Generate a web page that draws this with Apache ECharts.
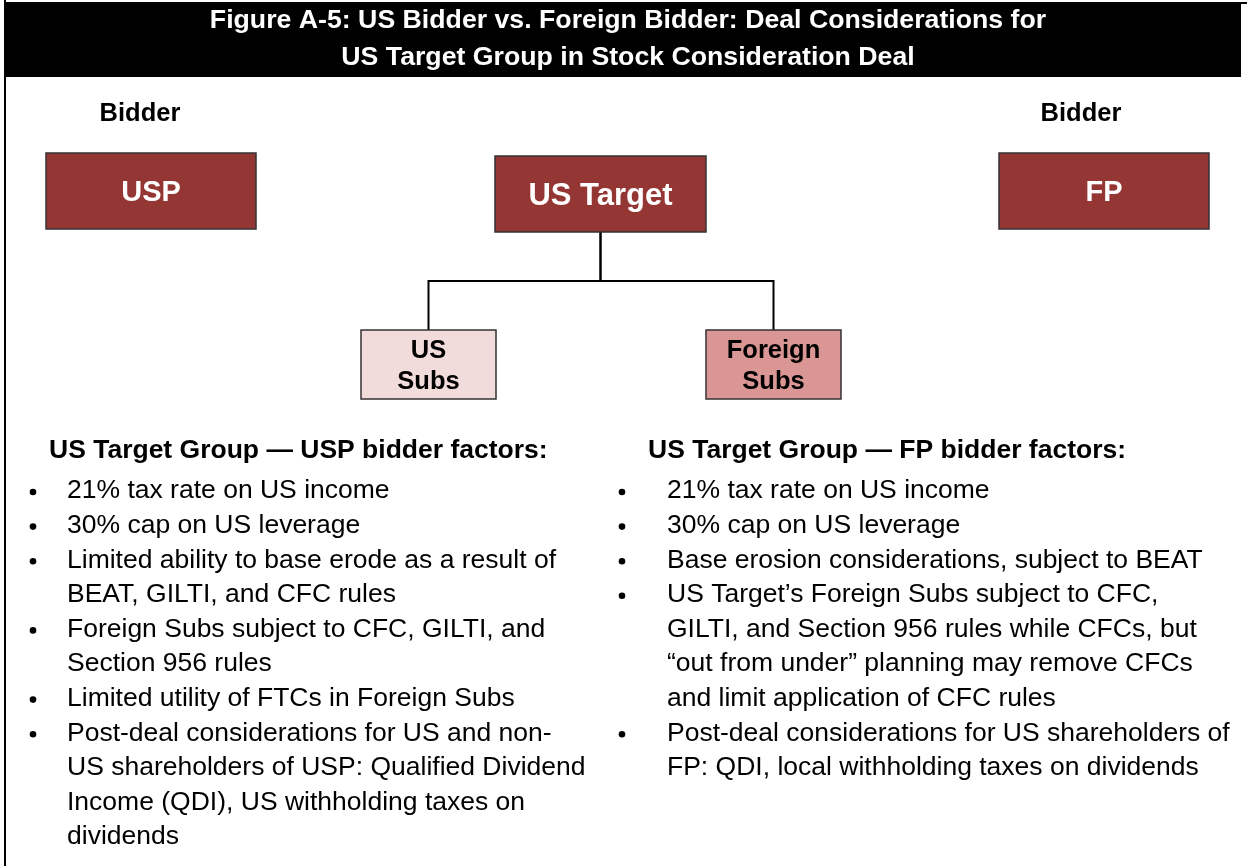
<!DOCTYPE html>
<html><head><meta charset="utf-8">
<script src="https://cdn.jsdelivr.net/npm/echarts@6/dist/echarts.min.js"></script>
<style>html,body{margin:0;padding:0;background:#fff}#c{width:1247px;height:866px}</style>
</head><body><div id="c"></div>
<script>
var titleLines = ["Figure A-5: US Bidder vs. Foreign Bidder: Deal Considerations for", "US Target Group in Stock Consideration Deal"];
var bidderLabels = ["Bidder", "Bidder"];
var nodeNames = ["USP", "US Target", "FP", "US\nSubs", "Foreign\nSubs"];
var nodeKinds = ["dark", "dark", "dark", "light", "medium"];
var edges = [["US Target", "US\nSubs"], ["US Target", "Foreign\nSubs"]];
var leftHeading = "US Target Group \u2014 USP bidder factors:";
var rightHeading = "US Target Group \u2014 FP bidder factors:";
var leftBullets = [
  ["21% tax rate on US income"],
  ["30% cap on US leverage"],
  ["Limited ability to base erode as a result of", "BEAT, GILTI, and CFC rules"],
  ["Foreign Subs subject to CFC, GILTI, and", "Section 956 rules"],
  ["Limited utility of FTCs in Foreign Subs"],
  ["Post-deal considerations for US and non-", "US shareholders of USP: Qualified Dividend", "Income (QDI), US withholding taxes on", "dividends"]
];
var rightBullets = [
  ["21% tax rate on US income"],
  ["30% cap on US leverage"],
  ["Base erosion considerations, subject to BEAT"],
  ["US Target\u2019s Foreign Subs subject to CFC,", "GILTI, and Section 956 rules while CFCs, but", "\u201cout from under\u201d planning may remove CFCs", "and limit application of CFC rules"],
  ["Post-deal considerations for US shareholders of", "FP: QDI, local withholding taxes on dividends"]
];

// layout (positions / styles kept separate from content)
var FONT = '"Liberation Sans", Arial, Helvetica, sans-serif';
var nodeBoxes = {
  "USP": [46, 153, 210, 76, 29],
  "US Target": [495, 156, 211, 76, 31],
  "FP": [999, 153, 210, 76, 29],
  "US\nSubs": [361, 330, 135, 69, 25.5],
  "Foreign\nSubs": [706, 330, 135, 69, 25.5]
};
var kindFill = {dark: '#943634', light: '#f2dcdb', medium: '#d99694'};
var kindText = {dark: '#ffffff', light: '#000000', medium: '#000000'};
var lineH = 34.6;

var g = [];
// frame
g.push({type:'line', shape:{x1:5,y1:0,x2:5,y2:866}, style:{stroke:'#000',lineWidth:2}});
g.push({type:'line', shape:{x1:5,y1:3,x2:1247,y2:3}, style:{stroke:'#000',lineWidth:2}});
g.push({type:'rect', shape:{x:5,y:3,width:1236,height:74}, style:{fill:'#000'}});
titleLines.forEach(function(t,i){
  g.push({type:'text', x:628, y:21+i*37, style:{text:t, fill:'#fff', font:'bold 26.7px '+FONT, textAlign:'center', textVerticalAlign:'middle'}});
});
var bidderX = [140, 1081];
bidderLabels.forEach(function(t,i){
  g.push({type:'text', x:bidderX[i], y:114, style:{text:t, fill:'#000', font:'bold 25.5px '+FONT, textAlign:'center', textVerticalAlign:'middle'}});
});
// connectors
edges.forEach(function(e){
  var a = nodeBoxes[e[0]], b = nodeBoxes[e[1]];
  var ax = a[0]+a[2]/2, ay = a[1]+a[3], bx = b[0]+b[2]/2, by = b[1];
  var my = 281;
  g.push({type:'polyline', shape:{points:[[ax,ay],[ax,my],[bx,my],[bx,by]]}, style:{stroke:'#000',lineWidth:2,fill:null}});
});
nodeNames.forEach(function(n,i){
  var b = nodeBoxes[n], k = nodeKinds[i];
  g.push({type:'rect', shape:{x:b[0],y:b[1],width:b[2],height:b[3]}, style:{fill:kindFill[k], stroke:'#333', lineWidth:1.5}});
  g.push({type:'text', x:b[0]+b[2]/2, y:b[1]+b[3]/2+2, style:{text:n, fill:kindText[k], font:'bold '+b[4]+'px '+FONT, textAlign:'center', textVerticalAlign:'middle', lineHeight:31}});
});
function column(heading, bullets, hx, bx, tx){
  g.push({type:'text', x:hx, y:451, style:{text:heading, fill:'#000', font:'bold 26.5px '+FONT, textAlign:'left', textVerticalAlign:'middle'}});
  var row = 0;
  bullets.forEach(function(lines){
    var y0 = 489 + row*lineH;
    g.push({type:'circle', shape:{cx:bx, cy:y0+3, r:3.3}, style:{fill:'#000'}});
    lines.forEach(function(l){
      g.push({type:'text', x:tx, y:491+row*lineH, style:{text:l, fill:'#000', font:'26.5px '+FONT, textAlign:'left', textVerticalAlign:'middle'}});
      row++;
    });
  });
}
column(leftHeading, leftBullets, 49, 33, 67);
column(rightHeading, rightBullets, 648, 622, 667);

var chart = echarts.init(document.getElementById('c'), null, {renderer:'canvas'});
chart.setOption({animation:false, backgroundColor:'#fff', graphic:{elements:g}});
</script></body></html>
